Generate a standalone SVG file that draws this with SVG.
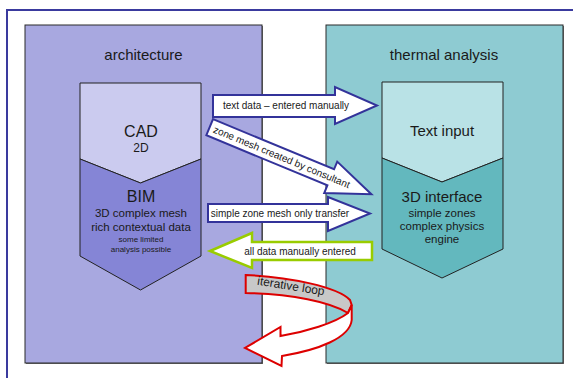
<svg xmlns="http://www.w3.org/2000/svg" width="573" height="378" viewBox="0 0 573 378">
<style>
text{font-family:"Liberation Sans",Arial,sans-serif;fill:#1a1a1a}
.panel{stroke:#2a2a2a;stroke-width:1}
.shadow{fill:#707070}
.chev{stroke:#222;stroke-width:1}
.blue{fill:#fff;stroke:#33339a;stroke-width:2;stroke-linejoin:miter}
.green{fill:#fff;stroke:#99cc00;stroke-width:2.5}
.red{stroke:#dd0000;stroke-width:2;stroke-linejoin:miter}
.t10{font-size:10px;text-anchor:middle}
.mid{text-anchor:middle}
</style>
<rect width="573" height="378" fill="#fff"/>
<path d="M7,378 V10 H573" fill="none" stroke="#3a3a9e" stroke-width="2"/>

<g id="architecture">
<rect class="shadow" x="26" y="26" width="237" height="338"/>
<rect class="panel" x="25" y="25" width="237" height="338" fill="#a8a8e0"/>
<text class="mid" x="143.5" y="60" font-size="15">architecture</text>
</g>
<g id="thermal">
<rect class="shadow" x="327" y="26" width="237" height="338"/>
<rect class="panel" x="326" y="25" width="237" height="338" fill="#8ecbd2"/>
<text class="mid" x="444" y="60" font-size="15">thermal analysis</text>
</g>

<g id="cad">
<path class="chev" d="M80,83 H201 V159 L140.5,183 L80,159 Z" fill="#cbcbef"/>
<text class="mid" x="141" y="137" font-size="16">CAD</text>
<text class="mid" x="141" y="152" font-size="12">2D</text>
</g>
<g id="bim">
<path class="chev" d="M80,159 L140.5,183 L201,159 V256 L140.5,290 L80,256 Z" fill="#8585d6"/>
<text class="mid" x="141" y="202" font-size="16">BIM</text>
<text class="mid" x="141" y="217" font-size="11.5">3D complex mesh</text>
<text class="mid" x="141" y="230.5" font-size="11.5">rich contextual data</text>
<text class="mid" x="141" y="242" font-size="8">some limited</text>
<text class="mid" x="141" y="252" font-size="8">analysis possible</text>
</g>
<g id="textinput">
<path class="chev" d="M382,82 H503 V158 L442,182 L382,158 Z" fill="#b9e2e6"/>
<text class="mid" x="442" y="135.5" font-size="15">Text input</text>
</g>
<g id="interface3d">
<path class="chev" d="M382,158 L442,182 L503,158 V249 L442,278 L382,249 Z" fill="#63b8be"/>
<text class="mid" x="442" y="201.5" font-size="15">3D interface</text>
<text class="mid" x="442" y="216.5" font-size="11.5">simple zones</text>
<text class="mid" x="442" y="229.5" font-size="11.5">complex physics</text>
<text class="mid" x="442" y="243" font-size="11.5">engine</text>
</g>

<g id="connectors">
<g id="a-text">
<polygon class="blue" points="213,95 335,95 335,87 377,105.5 335,124 335,117 213,117"/>
<text class="t10" x="286" y="109">text data – entered manually</text>
</g>
<g id="a-zone" transform="translate(209.7,127.2) rotate(22.5)">
<polygon class="blue" points="0,-8.7 131,-8.7 131,-17 175,0 131,17 131,8.7 0,8.7"/>
<text class="t10" x="78" y="3.5">zone mesh created by consultant</text>
</g>
<g id="a-simple">
<polygon class="blue" points="208,204 328,204 328,197 370,213.5 328,231 328,222 208,222"/>
<text class="t10" x="280" y="217">simple zone mesh only transfer</text>
</g>
<g id="a-all">
<polygon class="green" points="372,242 252,242 252,233 210,251 252,268 252,260 372,260"/>
<text class="t10" x="300" y="255">all data manually entered</text>
</g>
<g id="loop">
<path class="red" fill="#c8c8c8" d="M245.7,275 C 290,277 338,287 350,300 L 351.7,305 L 348,313 C 330,302 292,294 245.7,293 Z"/>
<path class="red" fill="#fff" d="M348,313 C 335,323 305,332 280.5,336 L 280.5,327 L 245,348 L 281.5,366 L 282,356 C 318,350 350,338 351.7,320 L 351.7,305 Z"/>
<text x="291" y="290" font-size="12" class="mid" transform="rotate(9 291 286)">iterative loop</text>
</g>
</g>
</svg>
